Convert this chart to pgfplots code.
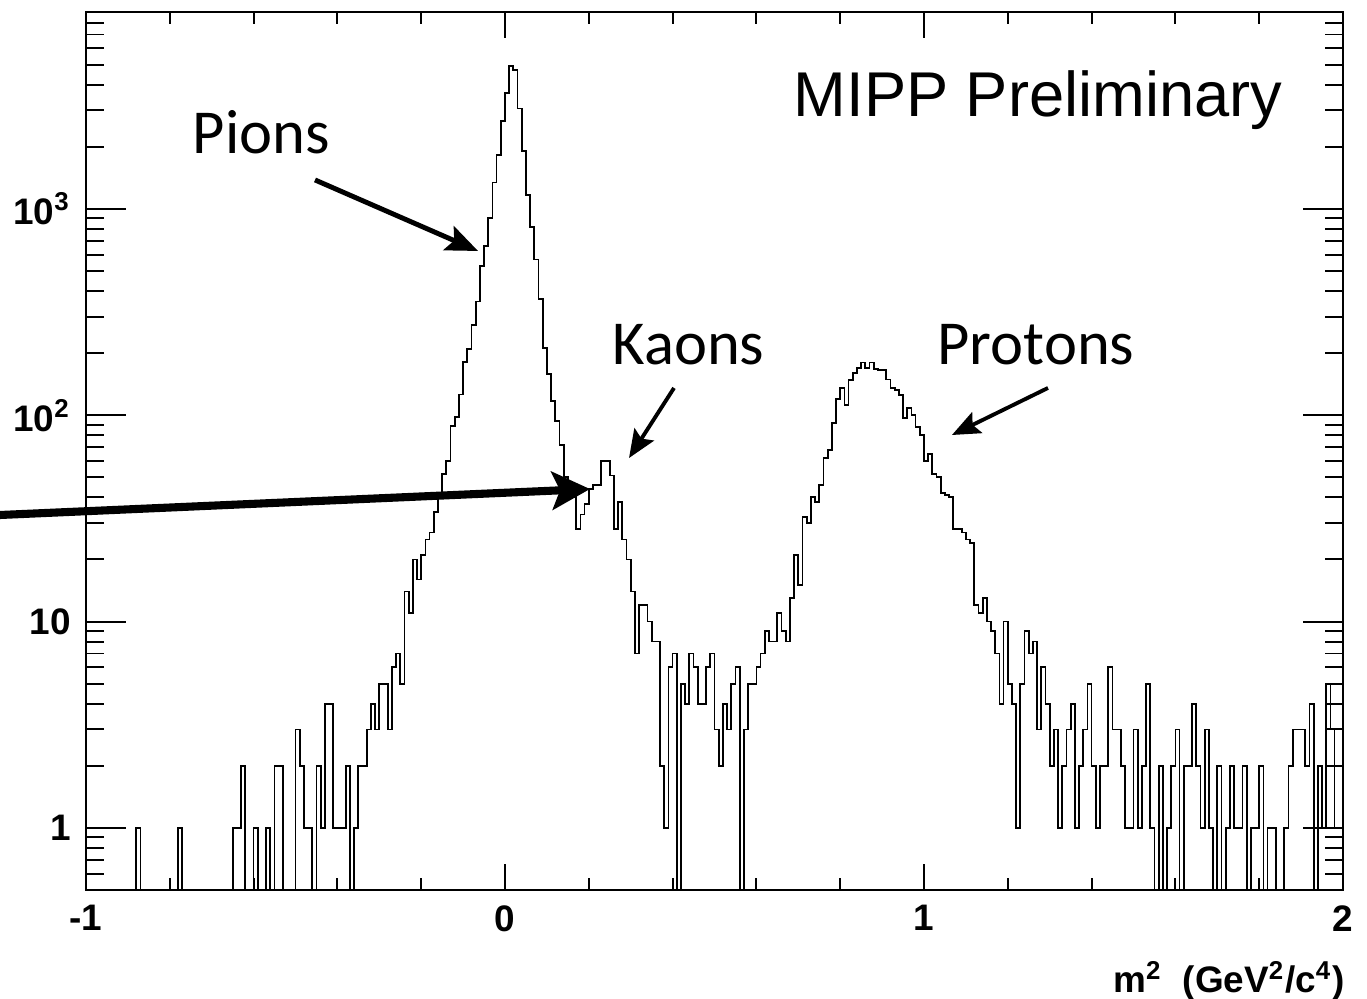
\documentclass[border=0pt]{standalone}
\usepackage{fontspec}
\setmainfont{Liberation Sans}
\newfontfamily\calibri{Carlito}
\usepackage{pgfplots}
\pgfplotsset{compat=1.18}
\usepackage{pgfplotstable}
\usetikzlibrary{arrows.meta}

\pgfplotstableread{
x y
-1.00 0.5
-0.99 0.5
-0.98 0.5
-0.97 0.5
-0.96 0.5
-0.95 0.5
-0.94 0.5
-0.93 0.5
-0.92 0.5
-0.91 0.5
-0.90 0.5
-0.89 0.5
-0.88 1
-0.87 0.5
-0.86 0.5
-0.85 0.5
-0.84 0.5
-0.83 0.5
-0.82 0.5
-0.81 0.5
-0.80 0.5
-0.79 0.5
-0.78 1
-0.77 0.5
-0.76 0.5
-0.75 0.5
-0.74 0.5
-0.73 0.5
-0.72 0.5
-0.71 0.5
-0.70 0.5
-0.69 0.5
-0.68 0.5
-0.67 0.5
-0.66 0.5
-0.65 1
-0.64 1
-0.63 2
-0.62 0.5
-0.61 0.5
-0.60 1
-0.59 0.5
-0.58 0.5
-0.57 1
-0.56 0.5
-0.55 2
-0.54 2
-0.53 0.5
-0.52 0.5
-0.51 0.5
-0.50 3
-0.49 2
-0.48 1
-0.47 1
-0.46 0.5
-0.45 2
-0.44 1
-0.43 4
-0.42 4
-0.41 1
-0.40 1
-0.39 1
-0.38 2
-0.37 0.5
-0.36 1
-0.35 2
-0.34 2
-0.33 3
-0.32 4
-0.31 3
-0.30 5
-0.29 5
-0.28 3
-0.27 6
-0.26 7
-0.25 5
-0.24 14
-0.23 11
-0.22 20
-0.21 16
-0.20 21
-0.19 25
-0.18 27
-0.17 34
-0.16 40
-0.15 52
-0.14 60
-0.13 89
-0.12 98
-0.11 126
-0.10 181
-0.09 210
-0.08 274
-0.07 356
-0.06 527
-0.05 659
-0.04 906
-0.03 1344
-0.02 1823
-0.01 2672
0.00 3637
0.01 4930
0.02 4710
0.03 3069
0.04 1901
0.05 1172
0.06 815
0.07 568
0.08 366
0.09 212
0.10 159
0.11 117
0.12 94
0.13 72
0.14 50
0.15 45
0.16 40
0.17 28
0.18 33
0.19 37
0.20 44
0.21 46
0.22 46
0.23 60
0.24 60
0.25 51
0.26 28
0.27 38
0.28 25
0.29 20
0.30 14
0.31 7
0.32 12
0.33 12
0.34 10
0.35 8
0.36 8
0.37 2
0.38 1
0.39 6
0.40 7
0.41 0.5
0.42 5
0.43 4
0.44 7
0.45 6
0.46 4
0.47 4
0.48 6
0.49 7
0.50 3
0.51 2
0.52 4
0.53 3
0.54 5
0.55 6
0.56 0.5
0.57 3
0.58 5
0.59 5
0.60 6
0.61 7
0.62 9
0.63 8
0.64 8
0.65 11
0.66 9
0.67 8
0.68 13
0.69 21
0.70 15
0.71 32
0.72 30
0.73 40
0.74 38
0.75 46
0.76 62
0.77 68
0.78 92
0.79 120
0.80 136
0.81 112
0.82 148
0.83 160
0.84 170
0.85 180
0.86 170
0.87 180
0.88 168
0.89 166
0.90 165
0.91 149
0.92 135
0.93 132
0.94 125
0.95 97
0.96 108
0.97 100
0.98 88
0.99 80
1.00 60
1.01 65
1.02 52
1.03 50
1.04 42
1.05 41
1.06 40
1.07 28
1.08 28
1.09 27
1.10 25
1.11 24
1.12 12
1.13 11
1.14 13
1.15 10
1.16 9
1.17 7
1.18 4
1.19 10
1.20 5
1.21 4
1.22 1
1.23 5
1.24 9
1.25 7
1.26 8
1.27 3
1.28 6
1.29 4
1.30 2
1.31 3
1.32 1
1.33 2
1.34 3
1.35 4
1.36 1
1.37 2
1.38 3
1.39 5
1.40 2
1.41 1
1.42 2
1.43 2
1.44 6
1.45 3
1.46 3
1.47 2
1.48 1
1.49 1
1.50 3
1.51 1
1.52 2
1.53 5
1.54 1
1.55 0.5
1.56 2
1.57 0.5
1.58 1
1.59 2
1.60 3
1.61 0.5
1.62 2
1.63 2
1.64 4
1.65 2
1.66 1
1.67 3
1.68 1
1.69 0.5
1.70 2
1.71 0.5
1.72 1
1.73 2
1.74 1
1.75 1
1.76 2
1.77 0.5
1.78 1
1.79 1
1.80 2
1.81 0.5
1.82 1
1.83 1
1.84 0.5
1.85 0.5
1.86 1
1.87 2
1.88 3
1.89 3
1.90 3
1.91 2
1.92 4
1.93 0.5
1.94 2
1.95 1
1.96 5
1.97 3
1.98 1
1.99 1
2.00 1
}\histdata

\begin{document}
\begin{tikzpicture}
\begin{axis}[
  scale only axis,
  width=125.7mm, height=87.8mm,
  xmin=-1, xmax=2,
  ymode=log, ymin=0.5, ymax=9000,
  axis line style={line width=0.65pt},
  xtick={-1,0,1,2},
  xticklabels={\textbf{-1},\textbf{0},\textbf{1},\textbf{2}},
  minor x tick num=4,
  ytick={1,10,100,1000},
  yticklabels={\textbf{1},\textbf{10},\textbf{10\textsuperscript{2}},\textbf{10\textsuperscript{3}}},
  minor ytick={0.6,0.7,0.8,0.9,2,3,4,5,6,7,8,9,20,30,40,50,60,70,80,90,200,300,400,500,600,700,800,900,2000,3000,4000,5000,6000,7000,8000,9000},
  tick align=inside,
  tick pos=both,
  xticklabel pos=left,
  yticklabel pos=left,
  tick style={black, line width=0.55pt},
  xtick style={/pgfplots/major tick length=2.6mm, /pgfplots/minor tick length=1.2mm},
  ytick style={/pgfplots/major tick length=4mm, /pgfplots/minor tick length=1.8mm},
  ticklabel style={font=\fontsize{10.5}{12}\selectfont},
  xticklabel style={yshift=-0.3mm},
  yticklabel style={xshift=-0.3mm},
  xlabel={\textbf{m\textsuperscript{2}\ \ (GeV\textsuperscript{2}/c\textsuperscript{4})}},
  xlabel style={at={(axis description cs:1.0016,-0.1173)}, anchor=base east, inner sep=0pt, font=\fontsize{10.5}{12}\selectfont},
  clip mode=individual,
]
\addplot[const plot mark left, black, line width=0.5pt, mark=none] table[x=x,y=y] {\histdata};

\node[font=\calibri\fontsize{17.8}{20}\selectfont, anchor=base, inner sep=0pt] at (rel axis cs:0.1396,0.8383) {Pions};
\node[font=\calibri\fontsize{17.8}{20}\selectfont, anchor=base, inner sep=0pt] at (rel axis cs:0.4793,0.598) {Kaons};
\node[font=\calibri\fontsize{17.8}{20}\selectfont, anchor=base, inner sep=0pt] at (rel axis cs:0.7558,0.598) {Protons};
\node[font=\fontsize{18}{20}\selectfont, anchor=base, inner sep=0pt] at (rel axis cs:0.7574,0.8804) {MIPP Preliminary};

\draw[line width=1.4pt, -{Stealth[length=3.2mm,width=2.6mm,inset=0.6mm]}] (rel axis cs:0.1822,0.8087) -- (rel axis cs:0.3119,0.7278);
\draw[line width=1.1pt, -{Stealth[length=2.8mm,width=2.3mm,inset=0.5mm]}] (rel axis cs:0.4678,0.5718) -- (rel axis cs:0.4320,0.4920);
\draw[line width=1.1pt, -{Stealth[length=2.8mm,width=2.3mm,inset=0.5mm]}] (rel axis cs:0.7653,0.5718) -- (rel axis cs:0.6889,0.5182);
\draw[line width=2.3pt, -{Stealth[length=3.8mm,width=3.8mm,inset=0.8mm]}] (rel axis cs:-0.0684,0.4271) -- (rel axis cs:0.4010,0.4567);
\end{axis}
\pgfresetboundingbox
\path[use as bounding box] ([xshift=-8.6mm,yshift=-10.9mm]current axis.south west) rectangle ([xshift=2.4mm,yshift=1.2mm]current axis.north east);
\end{tikzpicture}
\end{document}
